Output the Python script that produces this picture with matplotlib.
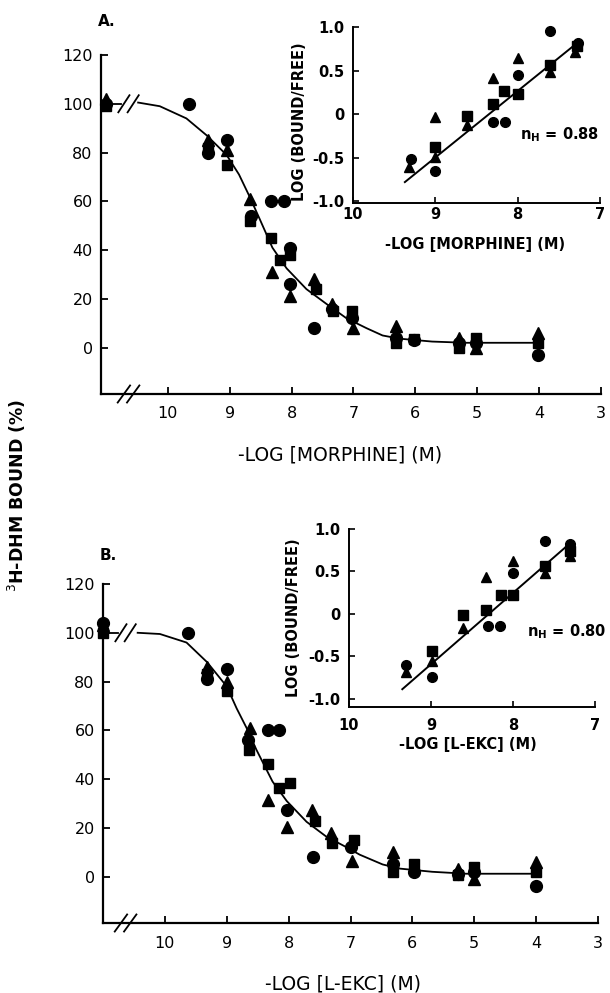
import matplotlib
matplotlib.use("Agg")
import matplotlib.pyplot as plt

plt.rcParams['font.family'] = ['DejaVu Sans']

# ---------------- DATA ----------------
# Panel A: morphine displacement (% 3H-DHM bound)
a_circ_x = [11.0, 9.66, 9.35, 9.05, 8.65, 8.34, 8.12, 8.03, 8.03, 7.64, 7.35, 7.03, 6.31, 6.02, 5.30, 5.02, 4.02]
a_circ_y = [100, 100, 80, 85, 54, 60, 60, 41, 26, 8, 16, 12, 4, 3, 2, 2, -3]
a_tri_x = [11.0, 9.35, 9.05, 8.68, 8.32, 8.03, 7.63, 7.35, 7.00, 6.31, 5.30, 5.02, 4.02]
a_tri_y = [102, 85, 81, 61, 31, 21, 28, 18, 8, 9, 4, 0, 6]
a_sq_x = [11.0, 9.35, 9.05, 8.68, 8.34, 8.19, 8.03, 7.61, 7.33, 7.03, 6.31, 6.02, 5.30, 5.02, 4.02]
a_sq_y = [99, 82, 75, 52, 45, 36, 38, 24, 15, 15, 2, 3.5, 0, 4, 2]
a_fit_x = [10.48, 10.13, 9.70, 9.37, 9.05, 8.85, 8.68, 8.52, 8.31, 8.08, 7.76, 7.44, 7.11, 6.79, 6.53, 6.26, 5.73, 5.18, 4.00]
a_fit_y = [100.5, 99, 94, 87, 79, 71, 62, 53, 41, 32.5, 24, 18, 12, 8, 5, 3.7, 2.5, 2, 2]

# Panel A inset: Hill plot
ai_circ_x = [9.30, 9.00, 8.30, 8.15, 8.00, 7.61, 7.27]
ai_circ_y = [-0.52, -0.65, -0.09, -0.09, 0.45, 0.95, 0.82]
ai_tri_x = [9.32, 9.00, 9.00, 8.61, 8.30, 7.99, 7.61, 7.30]
ai_tri_y = [-0.61, -0.03, -0.49, -0.12, 0.41, 0.64, 0.48, 0.71]
ai_sq_x = [9.00, 8.61, 8.30, 8.17, 8.00, 7.61, 7.28]
ai_sq_y = [-0.38, -0.02, 0.12, 0.27, 0.23, 0.56, 0.78]
ai_fit_x = [9.37, 7.26]
ai_fit_y = [-0.78, 0.83]

# Panel B: L-EKC displacement
b_circ_x = [11.0, 9.63, 9.32, 9.00, 8.66, 8.34, 8.15, 8.02, 7.61, 7.00, 6.32, 5.97, 5.26, 5.00, 4.00]
b_circ_y = [104, 100, 81, 85, 56, 60, 60, 27.5, 8, 12, 5, 2, 1, 2, -4]
b_tri_x = [11.0, 9.32, 9.00, 8.63, 8.34, 8.02, 7.62, 7.32, 6.98, 6.32, 5.26, 5.00, 4.00]
b_tri_y = [103, 86, 80, 61, 31.5, 20.5, 27.5, 18, 6.5, 10, 3, -1, 6]
b_sq_x = [11.0, 9.32, 9.00, 8.64, 8.34, 8.15, 7.98, 7.58, 7.30, 6.94, 6.32, 5.97, 5.26, 5.00, 4.00]
b_sq_y = [100, 83, 76, 52, 46, 36.5, 38.5, 23, 14, 15, 2, 5, 0.5, 4, 2]
b_fit_x = [10.44, 10.08, 9.65, 9.32, 9.00, 8.84, 8.68, 8.52, 8.26, 8.03, 7.71, 7.39, 7.06, 6.85, 6.48, 6.20, 5.68, 5.13, 4.00]
b_fit_y = [100, 99.5, 96, 88, 78, 69, 61, 52, 39, 31, 22.5, 16.4, 12, 9, 5, 3.3, 2, 1.2, 1.2]

# Panel B inset
bi_circ_x = [9.30, 8.99, 8.30, 8.16, 8.00, 7.61, 7.30]
bi_circ_y = [-0.60, -0.75, -0.14, -0.14, 0.48, 0.86, 0.82]
bi_tri_x = [9.30, 8.99, 8.61, 8.33, 8.00, 7.61, 7.30]
bi_tri_y = [-0.69, -0.56, -0.17, 0.43, 0.62, 0.48, 0.68]
bi_sq_x = [8.99, 8.61, 8.33, 8.15, 8.00, 7.61, 7.30]
bi_sq_y = [-0.44, -0.02, 0.05, 0.22, 0.22, 0.56, 0.74]
bi_fit_x = [9.35, 7.33]
bi_fit_y = [-0.89, 0.81]

main_xticks = [10, 9, 8, 7, 6, 5, 4, 3]
main_yticks = [0, 20, 40, 60, 80, 100, 120]
inset_xticks = [10, 9, 8, 7]
inset_yticks = [-1.0, -0.5, 0, 0.5, 1.0]
inset_yticklabels = ['-1.0', '-0.5', '0', '0.5', '1.0']

# ---------------- FIGURE ----------------
W, H = 610, 993
fig = plt.figure(figsize=(W / 100, H / 100), dpi=100)


def px_axes(x0, x1, ytop, ybot):
    return fig.add_axes([x0 / W, 1 - ybot / H, (x1 - x0) / W, (ybot - ytop) / H])


def style_main(ax, xlim):
    ax.set_xlim(*xlim)
    ax.set_ylim(-19, 120)
    for s in ['top', 'right']:
        ax.spines[s].set_visible(False)
    for s in ['left', 'bottom']:
        ax.spines[s].set_linewidth(1.6)
    ax.set_xticks(main_xticks)
    ax.set_xticklabels([str(t) for t in main_xticks])
    ax.set_yticks(main_yticks)
    ax.tick_params(direction='in', length=5, width=1.3, labelsize=11.5)
    ax.tick_params(axis='x', pad=9)
    ax.tick_params(axis='y', pad=6)
    ax.patch.set_alpha(0)


def style_inset(ax, ylim, xpad):
    ax.set_xlim(10, 7)
    ax.set_ylim(*ylim)
    for s in ['top', 'right']:
        ax.spines[s].set_visible(False)
    for s in ['left', 'bottom']:
        ax.spines[s].set_linewidth(1.4)
    ax.set_xticks(inset_xticks)
    ax.set_xticklabels([str(t) for t in inset_xticks])
    ax.set_yticks(inset_yticks)
    ax.set_yticklabels(inset_yticklabels)
    ax.tick_params(direction='in', length=4, width=1.2, labelsize=10.5)
    ax.tick_params(axis='x', pad=xpad)
    ax.tick_params(axis='y', pad=6)
    for lab in ax.get_xticklabels() + ax.get_yticklabels():
        lab.set_fontweight('bold')
    ax.patch.set_alpha(0)


def draw_main(ax, cx, cy, tx, ty, sx, sy, fx, fy, xleft):
    ax.plot(fx, fy, color='black', lw=1.3, zorder=2)
    ax.plot([xleft, 10.75], [100, 100], color='black', lw=1.3, zorder=2)
    # break marks on curve and on x axis
    for xb in (10.71, 10.56):
        ax.plot([xb + 0.09, xb - 0.09], [96.5, 103.5], color='black', lw=1.3, clip_on=False)
        ax.plot([xb + 0.10, xb - 0.10], [-22.5, -15.5], color='black', lw=1.3, clip_on=False)
    kw = dict(linestyle='none', color='black', clip_on=False, zorder=3)
    ax.plot(sx, sy, marker='s', markersize=7.5, **kw)
    ax.plot(tx, ty, marker='^', markersize=9, **kw)
    ax.plot(cx, cy, marker='o', markersize=8.5, **kw)


def draw_inset(ax, cx, cy, tx, ty, sx, sy, fx, fy):
    ax.plot(fx, fy, color='black', lw=1.4, zorder=2)
    kw = dict(linestyle='none', color='black', clip_on=False, zorder=3)
    ax.plot(sx, sy, marker='s', markersize=6.5, **kw)
    ax.plot(tx, ty, marker='^', markersize=7.5, **kw)
    ax.plot(cx, cy, marker='o', markersize=7, **kw)


# Panel A main
axA = px_axes(101, 601, 55, 394)
style_main(axA, (11.08, 3.0))
draw_main(axA, a_circ_x, a_circ_y, a_tri_x, a_tri_y, a_sq_x, a_sq_y, a_fit_x, a_fit_y, 11.08)

# Panel B main
axB = px_axes(103, 598, 584, 923)
style_main(axB, (11.0, 3.0))
draw_main(axB, b_circ_x, b_circ_y, b_tri_x, b_tri_y, b_sq_x, b_sq_y, b_fit_x, b_fit_y, 11.0)

# Inset A
axAi = px_axes(353, 600, 27, 203)
style_inset(axAi, (-1.02, 1.0), 3)
draw_inset(axAi, ai_circ_x, ai_circ_y, ai_tri_x, ai_tri_y, ai_sq_x, ai_sq_y, ai_fit_x, ai_fit_y)

# Inset B
axBi = px_axes(349, 595, 529, 707)
style_inset(axBi, (-1.1, 1.0), 8)
draw_inset(axBi, bi_circ_x, bi_circ_y, bi_tri_x, bi_tri_y, bi_sq_x, bi_sq_y, bi_fit_x, bi_fit_y)


def ftext(x, y, s, **kw):
    fig.text(x / W, 1 - y / H, s, **kw)


ftext(98, 22, 'A.', fontsize=11, fontweight='bold', ha='left', va='center')
ftext(100, 555, 'B.', fontsize=11, fontweight='bold', ha='left', va='center')
ftext(17, 495, '$^{3}$H-DHM BOUND (%)', fontsize=12.5, fontweight='bold', rotation=90,
      ha='center', va='center')
ftext(340, 455, '-LOG [MORPHINE] (M)', fontsize=13.5, ha='center', va='center')
ftext(343, 984, '-LOG [L-EKC] (M)', fontsize=13.5, ha='center', va='center')
ftext(475, 245, '-LOG [MORPHINE] (M)', fontsize=10.5, fontweight='bold', ha='center', va='center')
ftext(468, 745, '-LOG [L-EKC] (M)', fontsize=10.5, fontweight='bold', ha='center', va='center')
ftext(300, 122, 'LOG (BOUND/FREE)', fontsize=10.5, fontweight='bold', rotation=90, ha='center', va='center')
ftext(294, 618, 'LOG (BOUND/FREE)', fontsize=10.5, fontweight='bold', rotation=90, ha='center', va='center')
ftext(520, 135, r'n$_{\mathregular{H}}$ = 0.88', fontsize=10.5, fontweight='bold', ha='left', va='center')
ftext(527, 632, r'n$_{\mathregular{H}}$ = 0.80', fontsize=10.5, fontweight='bold', ha='left', va='center')

fig.savefig('out.png', dpi=100)
